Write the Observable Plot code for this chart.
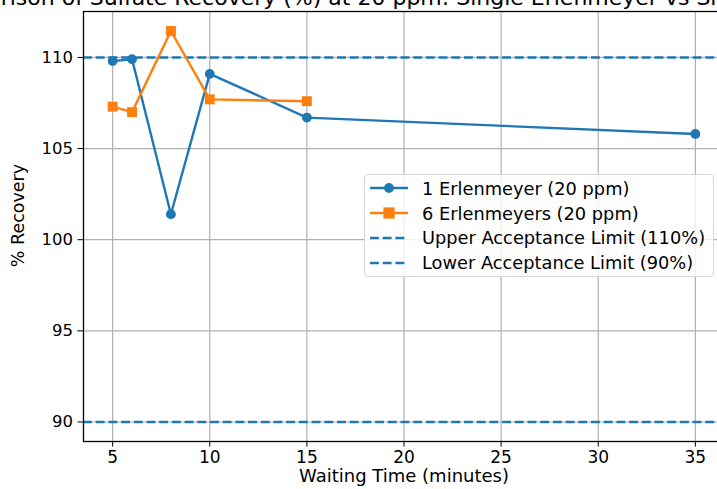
<!DOCTYPE html>
<html><head><meta charset="utf-8">
<script src="https://cdn.jsdelivr.net/npm/d3@7"></script>
<script src="https://cdn.jsdelivr.net/npm/@observablehq/plot@0.6"></script>
<style>
body{margin:0;background:#fff;font-family:"DejaVu Sans",sans-serif;}
#wrap{position:relative;width:717px;height:489px;overflow:hidden;}
#legend{position:absolute;left:364px;top:174px;width:350px;height:103px;box-sizing:border-box;
 border:1px solid #d6d6d6;border-radius:4px;background:rgba(255,255,255,0.8);padding-top:1px;}
.row{display:flex;align-items:center;height:24.8px;font-size:17.8px;color:#000;white-space:nowrap;}
.row svg{margin-left:5px;margin-right:14px;}
</style></head><body><div id="wrap"></div>
<script>
const title = "Comparison of Sulfate Recovery (%) at 20 ppm: Single Erlenmeyer vs Six Erlenmeyers";
const xLabel = "Waiting Time (minutes)";
const yLabel = "% Recovery";
const times1 = [5, 6, 8, 10, 15, 35];
const recovery1 = [109.8, 109.9, 101.4, 109.1, 106.7, 105.8];
const times6 = [5, 6, 8, 10, 15];
const recovery6 = [107.3, 107.0, 111.45, 107.7, 107.6];
const limits = [110, 90];
const xTicks = [5, 10, 15, 20, 25, 30, 35];
const yTicks = [90, 95, 100, 105, 110];
const seriesNames = ["1 Erlenmeyer (20 ppm)", "6 Erlenmeyers (20 ppm)"];
const limitNames = ["Upper Acceptance Limit (110%)", "Lower Acceptance Limit (90%)"];
const blue = "#1f77b4", orange = "#ff7f0e";

const s1 = times1.map((t, i) => ({t, r: recovery1[i]}));
const s6 = times6.map((t, i) => ({t, r: recovery6[i]}));

const plot = Plot.plot({
  width: 717, height: 489,
  marginLeft: 83, marginTop: 11, marginBottom: 48, marginRight: -7,
  style: {fontFamily: "DejaVu Sans", fontSize: "17px", color: "#000", background: "#fff"},
  x: {domain: [3.5, 36.5]},
  y: {domain: [88.93, 112.52]},
  marks: [
    Plot.gridX(xTicks, {stroke: "#b0b0b0", strokeOpacity: 1, strokeWidth: 1.2}),
    Plot.gridY(yTicks, {stroke: "#b0b0b0", strokeOpacity: 1, strokeWidth: 1.2}),
    Plot.ruleY(limits, {stroke: blue, strokeWidth: 2.4, strokeDasharray: "8.9,3.8"}),
    Plot.line(s1, {x: "t", y: "r", stroke: blue, strokeWidth: 2.4}),
    Plot.dot(s1, {x: "t", y: "r", fill: blue, r: 4.9, symbol: "circle"}),
    Plot.line(s6, {x: "t", y: "r", stroke: orange, strokeWidth: 2.4}),
    Plot.dot(s6, {x: "t", y: "r", fill: orange, r: 5.6, symbol: "square"}),
    Plot.axisX(xTicks, {tickSize: 5.6, tickPadding: 4, fontSize: 17, label: null}),
    Plot.axisY(yTicks, {tickSize: 5.6, tickPadding: 5, fontSize: 16.5, label: null}),
    Plot.frame({stroke: "#000", strokeWidth: 1.3}),
    Plot.text([title], {frameAnchor: "top", lineAnchor: "bottom", dx: -5, dy: -7, fontSize: 22, fill: "#000"}),
    Plot.text([xLabel], {frameAnchor: "bottom", lineAnchor: "top", dy: 28, fontSize: 18, fill: "#000"}),
    Plot.text([yLabel], {frameAnchor: "left", textAnchor: "middle", rotate: -90, dx: -65, dy: -11, fontSize: 17.5, fill: "#000"})
  ]
});
const wrap = document.getElementById("wrap");
wrap.appendChild(plot);

const legend = document.createElement("div");
legend.id = "legend";
const items = [
  {name: seriesNames[0], color: blue, kind: "circle"},
  {name: seriesNames[1], color: orange, kind: "square"},
  {name: limitNames[0], color: blue, kind: "dash"},
  {name: limitNames[1], color: blue, kind: "dash"}
];
for (const it of items) {
  const row = document.createElement("div");
  row.className = "row";
  let sw = `<svg width="38" height="14"><line x1="0" x2="38" y1="7" y2="7" stroke="${it.color}" stroke-width="2.4"${it.kind === "dash" ? ' stroke-dasharray="8.9,3.8"' : ""}/>`;
  if (it.kind === "circle") sw += `<circle cx="19" cy="7" r="4.9" fill="${it.color}"/>`;
  if (it.kind === "square") sw += `<rect x="13.4" y="1.4" width="11.2" height="11.2" fill="${it.color}"/>`;
  sw += `</svg>`;
  row.innerHTML = sw + `<span>${it.name}</span>`;
  legend.appendChild(row);
}
wrap.appendChild(legend);
</script>
</body></html>
